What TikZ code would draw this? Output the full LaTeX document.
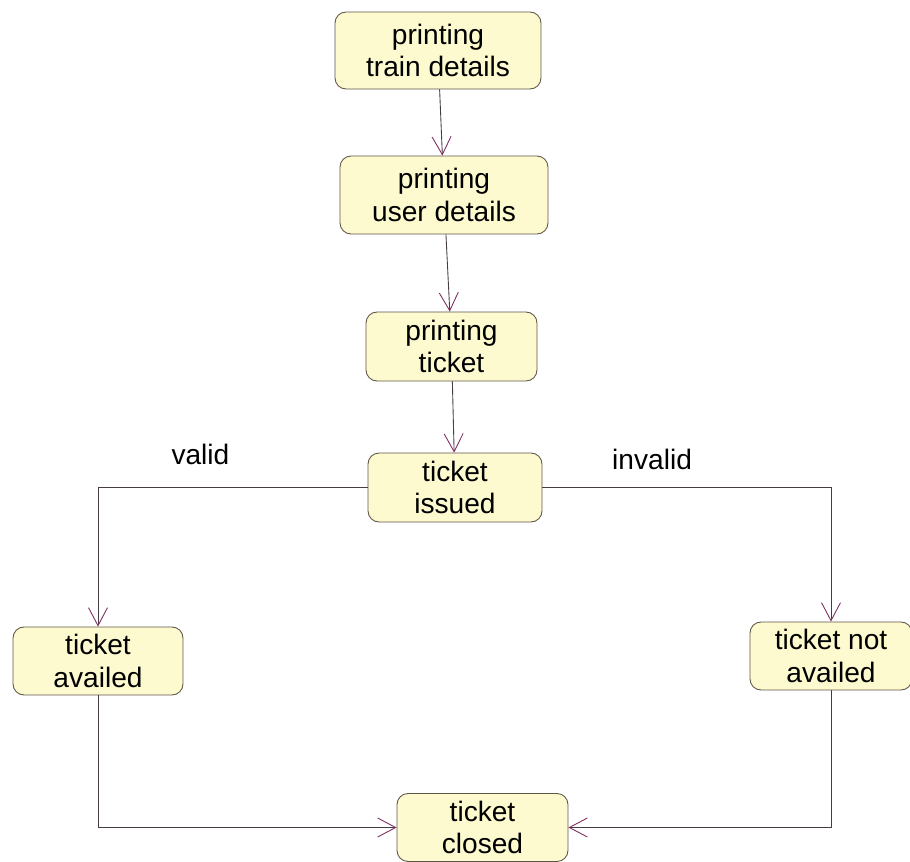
\documentclass[tikz,border=0pt]{standalone}
\usepackage{fontspec}
\setmainfont{Liberation Sans}
\usetikzlibrary{arrows.meta}
\definecolor{boxfill}{RGB}{252,250,206}
\definecolor{boxline}{RGB}{95,85,70}
\definecolor{tippurple}{RGB}{125,45,95}
\definecolor{flowline}{RGB}{70,60,70}
\begin{document}
\begin{tikzpicture}[x=0.02cm,y=-0.02cm,
  state/.style={draw=boxline,fill=boxfill,rounded corners=0.22cm,align=center,
    font=\fontsize{16}{18.5}\selectfont,inner sep=0pt,line width=0.5pt},
  flow/.style={draw=flowline,line width=0.5pt,
    -{Straight Barb[color=tippurple,length=0.36cm,width=0.38cm,line width=0.5pt]}}]
  \useasboundingbox (0,0) rectangle (910,862);
  \node[state,minimum width=4.12cm,minimum height=1.54cm] (a) at (438,50.5) {printing\\train details};
  \node[state,minimum width=4.16cm,minimum height=1.56cm] (b) at (444,195) {printing\\user details};
  \node[state,minimum width=3.42cm,minimum height=1.38cm] (c) at (451.5,346.5) {printing\\ticket};
  \node[state,minimum width=3.48cm,minimum height=1.38cm] (d) at (455,487.5) {ticket\\issued};
  \node[state,minimum width=3.40cm,minimum height=1.36cm] (e) at (98,661) {ticket\\availed};
  \node[state,minimum width=3.24cm,minimum height=1.36cm] (f) at (831,656) {ticket not\\availed};
  \node[state,minimum width=3.42cm,minimum height=1.36cm] (g) at (482.5,827.5) {ticket\\closed};
  \draw [flow] (a) -- (b);
  \draw [flow] (b) -- (c);
  \draw [flow] (c) -- (d);
  \draw [flow] (d.west) -| node[pos=0.31,above=0.32cm,font=\fontsize{16}{18.5}\selectfont] {valid} (e.north);
  \draw [flow] (d.east) -| node[pos=0.19,above=0.22cm,font=\fontsize{16}{18.5}\selectfont] {invalid} (f.north);
  \draw [flow] (e.south) |- (g.west);
  \draw [flow] (f.south) |- (g.east);
\end{tikzpicture}
\end{document}
